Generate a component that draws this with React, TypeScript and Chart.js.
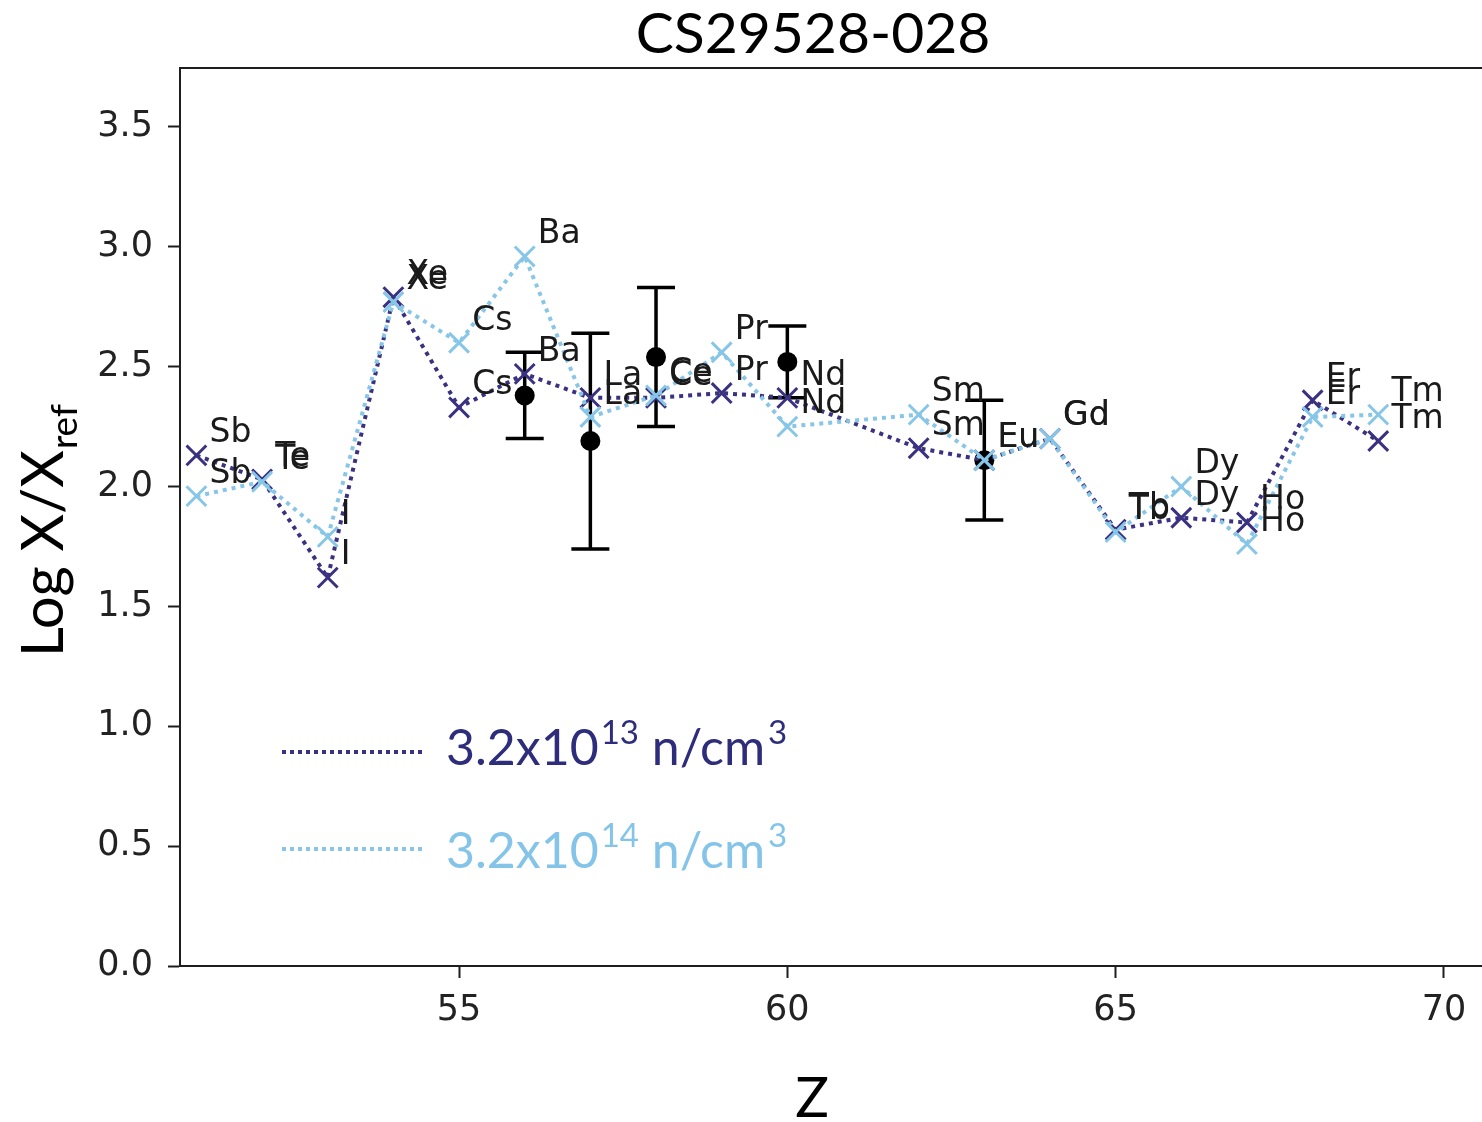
import { useEffect, useRef } from 'react';
import { Chart, registerables } from 'chart.js';

Chart.register(...registerables);

// ---- data ----
const atomicNumbers = [51, 52, 53, 54, 55, 56, 57, 58, 59, 60, 62, 63, 64, 65, 66, 67, 68, 69];
const elementNames = ['Sb', 'Te', 'I', 'Xe', 'Cs', 'Ba', 'La', 'Ce', 'Pr', 'Nd', 'Sm', 'Eu', 'Gd', 'Tb', 'Dy', 'Ho', 'Er', 'Tm'];
const logLowDensity = [2.13, 2.03, 1.62, 2.79, 2.33, 2.47, 2.37, 2.37, 2.39, 2.37, 2.16, 2.11, 2.20, 1.82, 1.87, 1.85, 2.36, 2.19];
const logHighDensity = [1.96, 2.02, 1.79, 2.77, 2.60, 2.96, 2.29, 2.38, 2.56, 2.25, 2.30, 2.11, 2.20, 1.81, 2.00, 1.76, 2.29, 2.30];
const observedZ = [56, 57, 58, 60, 63];
const observedLog = [2.38, 2.19, 2.54, 2.52, 2.11];
const observedErr = [0.18, 0.45, 0.29, 0.15, 0.25];
const xTickValues = [55, 60, 65, 70];
const yTickValues = [0, 0.5, 1.0, 1.5, 2.0, 2.5, 3.0, 3.5];
const chartTitle = 'CS29528-028';
const xAxisTitle = 'Z';
const yAxisTitleMain = 'Log X/X';
const yAxisTitleSub = 'ref';
const legendBase = ['3.2x10', '3.2x10'];
const legendExp = ['13', '14'];
const legendUnit = ' n/cm';
const legendUnitExp = '3';

const DARK = '#3a3181';
const LIGHT = '#88c6e7';
const DARK_TEXT = '#2e2d7c';
const LIGHT_TEXT = '#84c4e8';
const AXIS = '#1e1e1e';

export default function App() {
  const ref = useRef<HTMLCanvasElement | null>(null);

  useEffect(() => {
    const canvas = ref.current;
    if (!canvas) return;

    const errorBars = {
      id: 'errorBars',
      beforeDatasetsDraw(chart: any) {
        const { ctx, scales } = chart;
        const xs = scales.x, ys = scales.y;
        ctx.save();
        ctx.strokeStyle = '#000';
        ctx.lineWidth = 3.5;
        observedZ.forEach((z, i) => {
          const px = xs.getPixelForValue(z);
          const top = ys.getPixelForValue(observedLog[i] + observedErr[i]);
          const bot = ys.getPixelForValue(observedLog[i] - observedErr[i]);
          ctx.beginPath();
          ctx.moveTo(px, top); ctx.lineTo(px, bot);
          ctx.moveTo(px - 19, top); ctx.lineTo(px + 19, top);
          ctx.moveTo(px - 19, bot); ctx.lineTo(px + 19, bot);
          ctx.stroke();
        });
        ctx.restore();
      },
    };

    const decorations = {
      id: 'decorations',
      afterDatasetsDraw(chart: any) {
        const { ctx, scales } = chart;
        const xs = scales.x, ys = scales.y;
        ctx.save();
        ctx.font = '33px "DejaVu Sans"';
        ctx.fillStyle = '#1a1a1a';
        ctx.textAlign = 'left';
        ctx.textBaseline = 'alphabetic';
        [logLowDensity, logHighDensity].forEach((series) => {
          series.forEach((v, i) => {
            const px = xs.getPixelForValue(atomicNumbers[i] + 0.2);
            const py = ys.getPixelForValue(v + 0.055);
            ctx.fillText(elementNames[i], px, py);
          });
        });
        ctx.restore();
      },
      afterDraw(chart: any) {
        const { ctx, chartArea } = chart;
        ctx.save();
        // top spine
        ctx.strokeStyle = AXIS;
        ctx.lineWidth = 2;
        ctx.beginPath();
        ctx.moveTo(chartArea.left - 1, chartArea.top);
        ctx.lineTo(chartArea.right, chartArea.top);
        ctx.stroke();

        // title
        ctx.fillStyle = '#000';
        ctx.font = '57px Lato';
        ctx.textAlign = 'center';
        ctx.textBaseline = 'alphabetic';
        ctx.fillText(chartTitle, 813, 53);

        // x title
        ctx.font = '56px Lato';
        ctx.fillText(xAxisTitle, 812, 1117);

        // y title
        ctx.save();
        ctx.translate(63, 657);
        ctx.rotate(-Math.PI / 2);
        ctx.textAlign = 'left';
        ctx.font = '58px Lato';
        ctx.fillText(yAxisTitleMain, 0, 0);
        const w1 = ctx.measureText(yAxisTitleMain).width;
        ctx.font = '37px Lato';
        ctx.fillText(yAxisTitleSub, w1 + 1, 14);
        ctx.restore();

        // legend
        const rows = [
          { y: 752, base: 765, color: DARK, text: DARK_TEXT },
          { y: 849, base: 868, color: LIGHT, text: LIGHT_TEXT },
        ];
        rows.forEach((r, i) => {
          ctx.save();
          ctx.strokeStyle = r.color;
          ctx.lineWidth = 4;
          ctx.setLineDash([4, 4]);
          ctx.beginPath();
          ctx.moveTo(282, r.y);
          ctx.lineTo(426, r.y);
          ctx.stroke();
          ctx.restore();
          ctx.fillStyle = r.text;
          ctx.textAlign = 'left';
          let x = 446;
          ctx.font = '50px Lato';
          ctx.fillText(legendBase[i], x, r.base);
          x += ctx.measureText(legendBase[i]).width + 2;
          ctx.font = '33px Lato';
          ctx.fillText(legendExp[i], x, r.base - 21);
          x += ctx.measureText(legendExp[i]).width;
          ctx.font = '50px Lato';
          ctx.fillText(legendUnit, x, r.base);
          x += ctx.measureText(legendUnit).width + 3;
          ctx.font = '33px Lato';
          ctx.fillText(legendUnitExp, x, r.base - 21);
        });
        ctx.restore();
      },
    };

    const lineDataset = (values: number[], color: string, order: number) => ({
      type: 'scatter' as const,
      data: atomicNumbers.map((z, i) => ({ x: z, y: values[i] })),
      showLine: true,
      borderColor: color,
      borderWidth: 4,
      borderDash: [4, 5],
      borderCapStyle: 'butt',
      pointStyle: 'crossRot',
      pointRadius: 14,
      pointHoverRadius: 14,
      pointBorderWidth: 3,
      pointBorderColor: color,
      pointBackgroundColor: color,
      tension: 0,
      fill: false,
      order,
      clip: false,
    });

    const chart = new Chart(canvas, {
      type: 'scatter',
      data: {
        datasets: [
          lineDataset(logHighDensity, LIGHT, 1),
          lineDataset(logLowDensity, DARK, 2),
          {
            type: 'scatter',
            data: observedZ.map((z, i) => ({ x: z, y: observedLog[i] })),
            pointRadius: 10,
            pointHoverRadius: 10,
            pointBackgroundColor: '#000',
            pointBorderColor: '#000',
            pointBorderWidth: 0,
            showLine: false,
            order: 3,
          } as any,
        ],
      },
      options: {
        responsive: false,
        animation: false,
        devicePixelRatio: 1,
        events: [],
        layout: { padding: { top: 68, right: 0, bottom: 0, left: 0 } },
        plugins: {
          legend: { display: false },
          title: { display: false },
          tooltip: { enabled: false },
        },
        scales: {
          x: {
            type: 'linear',
            min: 50.75,
            max: 70.58,
            afterBuildTicks: (s: any) => { s.ticks = xTickValues.map((v) => ({ value: v })); },
            afterFit: (s: any) => { s.height = 156; },
            grid: { drawOnChartArea: false, drawTicks: true, tickLength: 12, tickWidth: 2, tickColor: AXIS },
            border: { display: true, color: AXIS, width: 2 },
            ticks: {
              font: { family: 'DejaVu Sans', size: 35 },
              color: '#222',
              padding: 12,
              maxRotation: 0,
              callback: (v: any) => String(v),
            },
          },
          y: {
            type: 'linear',
            min: 0,
            max: 3.746,
            afterBuildTicks: (s: any) => { s.ticks = yTickValues.map((v) => ({ value: v })); },
            afterFit: (s: any) => { s.width = 180; },
            grid: { drawOnChartArea: false, drawTicks: true, tickLength: 12, tickWidth: 2, tickColor: AXIS },
            border: { display: true, color: AXIS, width: 2 },
            ticks: {
              font: { family: 'DejaVu Sans', size: 35 },
              color: '#222',
              padding: 15,
              callback: (v: any) => Number(v).toFixed(1),
            },
          },
        },
      } as any,
      plugins: [errorBars, decorations],
    });

    return () => chart.destroy();
  }, []);

  return (
    <div style={{ position: 'fixed', left: 0, top: 0, width: 1482, height: 1122, background: '#fff', overflow: 'hidden' }}>
      <canvas ref={ref} width={1499} height={1122} style={{ display: 'block' }} />
    </div>
  );
}
